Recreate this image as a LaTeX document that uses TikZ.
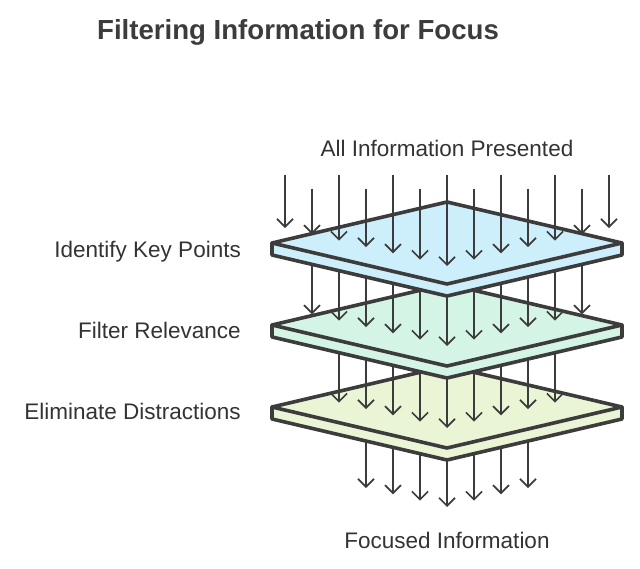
\documentclass[tikz,border=0pt]{standalone}
\usepackage{fontspec}
\setmainfont{Liberation Sans}
\usetikzlibrary{arrows.meta}
\definecolor{ink}{HTML}{3C3C3C}
\definecolor{txt}{HTML}{333333}
\definecolor{fillA}{HTML}{CDEFFC}
\definecolor{fillB}{HTML}{D4F5E6}
\definecolor{fillC}{HTML}{EAF5D6}
\tikzset{
 plate/.style={draw=ink, line width=3.6pt, line join=round},
 flow/.style={draw=ink, line width=1.7pt, -{Straight Barb[length=8pt,width=16pt,line width=1.7pt]}},
 lbl/.style={text=txt, font=\fontsize{22.5}{26}\selectfont, inner sep=0pt},
 ttl/.style={text=ink, font=\bfseries\fontsize{27.6}{31}\selectfont, inner sep=0pt},
}
\newcommand\myplate[2]{%
 \filldraw[plate, fill=#2] (272,#1) -- (272,{#1+12}) -- (447,{#1+53}) -- (622,{#1+12}) -- (622,#1) -- cycle;
 \filldraw[plate, fill=#2] (272,#1) -- (447,{#1-41}) -- (622,#1) -- (447,{#1+41}) -- cycle;
}
\newcommand\myflows[4]{% range n, start even, start odd, tip at centre
 \foreach \i in {-#1,...,#1} {
  \pgfmathsetmacro\xx{447+27*\i}
  \pgfmathsetmacro\ys{isodd(\i) ? #3 : #2}
  \pgfmathsetmacro\yt{#4-6.33*abs(\i)}
  \coordinate (s\i) at (\xx,\ys);
  \coordinate (t\i) at (\xx,\yt);
  \draw[flow] (s\i) -- (t\i);
 }
}
\begin{document}
\begin{tikzpicture}[x=1pt,y=-1pt]
\useasboundingbox (0,0) rectangle (640,569);
\node[ttl, anchor=base] (title) at (298,40) {Filtering Information for Focus};
\node[lbl, anchor=base] (top) at (447,157) {All Information Presented};
\node[lbl, anchor=base] (bot) at (447,548) {Focused Information};
\node[lbl, anchor=base east] (l1) at (241,258) {Identify Key Points};
\node[lbl, anchor=base east] (l2) at (241,338) {Filter Relevance};
\node[lbl, anchor=base east] (l3) at (241,419) {Eliminate Distractions};
\myflows{3}{415}{415}{507}
\myplate{407}{fillC}
\myflows{4}{335}{335}{428}
\myplate{325}{fillB}
\myflows{5}{250}{250}{346}
\myplate{243}{fillA}
\myflows{6}{175}{189}{266}
\end{tikzpicture}
\end{document}
